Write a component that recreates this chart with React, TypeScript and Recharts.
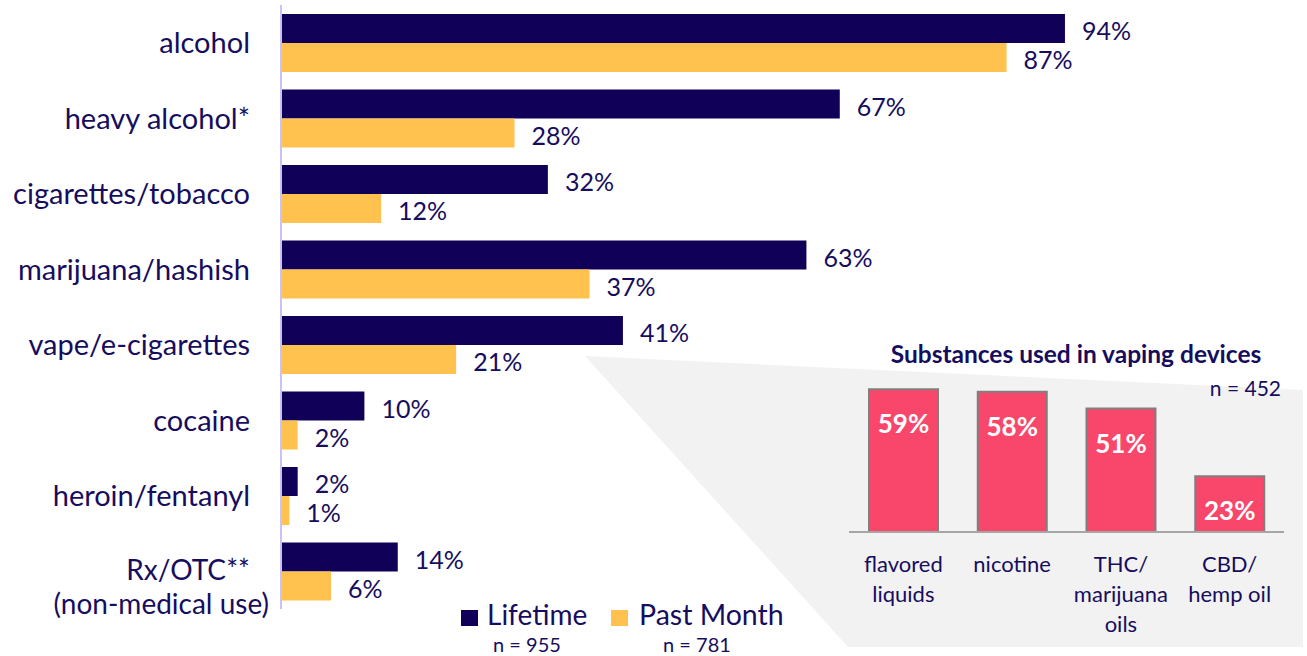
import React from 'react';
import { BarChart, Bar, XAxis, YAxis, LabelList } from 'recharts';

const NAVY = '#110057';
const TEXT = '#160d5e';
const GOLD = '#FFC24F';
const PINK = '#F9476B';
const FONT = 'Lato, "Open Sans", sans-serif';

const CATEGORIES = [
  'alcohol',
  'heavy alcohol*',
  'cigarettes/tobacco',
  'marijuana/hashish',
  'vape/e-cigarettes',
  'cocaine',
  'heroin/fentanyl',
  'Rx/OTC**\n(non-medical use)',
];
const LIFETIME = [94, 67, 32, 63, 41, 10, 2, 14];
const PAST_MONTH = [87, 28, 12, 37, 21, 2, 1, 6];

const VAPE_CATEGORIES = ['flavored\nliquids', 'nicotine', 'THC/\nmarijuana\noils', 'CBD/\nhemp oil'];
const VAPE_VALUES = [59, 58, 51, 23];

const mainData = CATEGORIES.map((name, i) => ({
  name,
  lifetime: LIFETIME[i],
  pastMonth: PAST_MONTH[i],
}));

const vapeData = VAPE_CATEGORIES.map((name, i) => ({ name, value: VAPE_VALUES[i] }));

// y-axis labels, right aligned; second line of the Rx label sits a bit further right
const CategoryTick = (props: any) => {
  const { x, y, payload } = props;
  const lines = String(payload.value).split('\n');
  const multi = lines.length > 1;
  return (
    <g>
      {lines.map((line, i) => (
        <text
          key={i}
          x={i === 0 ? x : x + 19}
          y={y + (multi ? 9 : 10.5) + i * 34}
          textAnchor="end"
          fill={TEXT}
          fontSize={multi ? 28 : 29}
          fontFamily={FONT}
        >
          {line}
        </text>
      ))}
    </g>
  );
};

const ValueLabel = (props: any) => {
  const { x, y, width, height, value } = props;
  return (
    <text
      x={x + width + 17}
      y={y + height / 2 + 11.5}
      fill={TEXT}
      fontSize={25}
      fontFamily={FONT}
    >
      {value}%
    </text>
  );
};

const VapeTick = (props: any) => {
  const { x, payload } = props;
  const lines = String(payload.value).split('\n');
  return (
    <g>
      {lines.map((line, i) => (
        <text
          key={i}
          x={x}
          y={572 - 280 + i * 30}
          textAnchor="middle"
          fill={TEXT}
          fontSize={22}
          fontFamily={FONT}
        >
          {line}
        </text>
      ))}
    </g>
  );
};

const VapeLabel = (props: any) => {
  const { x, y, width, value } = props;
  return (
    <text
      x={x + width / 2}
      y={y + 44}
      textAnchor="middle"
      fill="#ffffff"
      fontSize={26}
      fontWeight={700}
      fontFamily={FONT}
    >
      {value}%
    </text>
  );
};

export default function App() {
  return (
    <div
      style={{
        position: 'absolute',
        left: 0,
        top: 0,
        width: 1307,
        height: 656,
        background: '#ffffff',
        overflow: 'hidden',
        fontFamily: FONT,
      }}
    >
      {/* grey callout panel behind the inset */}
      <svg width={1307} height={656} style={{ position: 'absolute', left: 0, top: 0 }}>
        <polygon points="585,356 1303,390 1303,647 848,647" fill="#F2F2F2" />
      </svg>

      <div style={{ position: 'absolute', left: 0, top: 0 }}>
        <BarChart
          width={1307}
          height={656}
          data={mainData}
          layout="vertical"
          margin={{ top: 5, right: 192, bottom: 47, left: 0 }}
          barGap={0}
          barSize={29}
        >
          <XAxis type="number" domain={[0, 100]} hide />
          <YAxis
            type="category"
            dataKey="name"
            width={281}
            tickLine={false}
            tickSize={0}
            tickMargin={31}
            axisLine={{ stroke: '#C9C2F2', strokeWidth: 2 }}
            tick={<CategoryTick />}
            interval={0}
          />
          <Bar dataKey="lifetime" fill={NAVY} isAnimationActive={false}>
            <LabelList dataKey="lifetime" content={<ValueLabel />} />
          </Bar>
          <Bar dataKey="pastMonth" fill={GOLD} isAnimationActive={false}>
            <LabelList dataKey="pastMonth" content={<ValueLabel />} />
          </Bar>
        </BarChart>
      </div>

      <div style={{ position: 'absolute', left: 829, top: 280 }}>
        <BarChart
          width={475}
          height={376}
          data={vapeData}
          margin={{ top: 10, right: 20, bottom: 14, left: 20 }}
          barSize={69}
        >
          <YAxis domain={[0, 100]} hide />
          <XAxis
            dataKey="name"
            height={110}
            tickLine={false}
            axisLine={{ stroke: '#A6A6A6', strokeWidth: 2 }}
            tick={<VapeTick />}
            interval={0}
          />
          <Bar dataKey="value" fill={PINK} stroke="#7F7F7F" strokeWidth={2} isAnimationActive={false}>
            <LabelList dataKey="value" content={<VapeLabel />} />
          </Bar>
        </BarChart>
      </div>

      {/* titles, n counts and legend */}
      <svg
        width={1307}
        height={656}
        style={{ position: 'absolute', left: 0, top: 0, pointerEvents: 'none' }}
        fontFamily={FONT}
      >
        <text x={1076} y={363} textAnchor="middle" fontSize={24.5} fontWeight={700} fill={TEXT}>
          Substances used in vaping devices
        </text>
        <text x={1281} y={396} textAnchor="end" fontSize={21} fill={TEXT}>
          n = 452
        </text>

        <rect x={461} y={610} width={17} height={16} fill={NAVY} />
        <text x={487} y={625} fontSize={28} fill={TEXT}>Lifetime</text>
        <text x={527} y={652} textAnchor="middle" fontSize={20} fill={TEXT}>n = 955</text>

        <rect x={611} y={610} width={17} height={16} fill={GOLD} />
        <text x={639} y={625} fontSize={28.5} fill={TEXT}>Past Month</text>
        <text x={697} y={652} textAnchor="middle" fontSize={20} fill={TEXT}>n = 781</text>
      </svg>
    </div>
  );
}
